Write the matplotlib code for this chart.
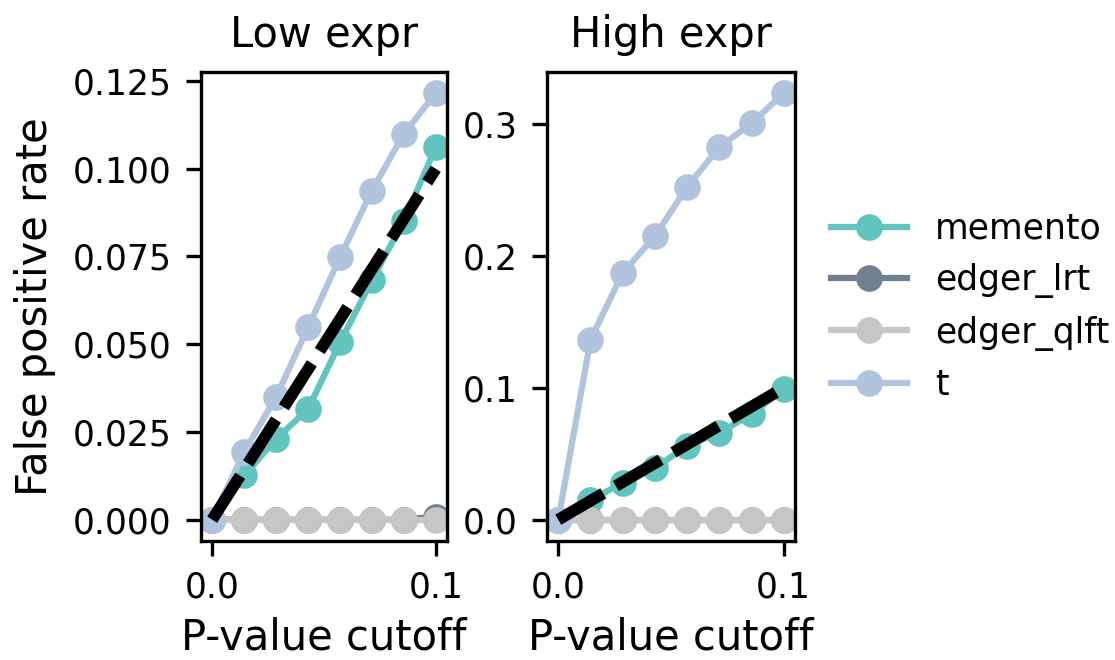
import numpy as np
import matplotlib
matplotlib.use("Agg")
import matplotlib.pyplot as plt

# p-value cutoffs tested (x) and the false positive rate for each method
cutoffs = np.linspace(0, 0.1, 8)

low_memento = [0.0, 0.0126, 0.0230, 0.0315, 0.0505, 0.0682, 0.0852, 0.1062]
low_edger_lrt = [0.0, 0.0, 0.0, 0.0, 0.0, 0.0, 0.0, 0.0009]
low_edger_qlft = [0.0, 0.0, 0.0, 0.0, 0.0, 0.0, 0.0, 0.0]
low_t = [0.0, 0.0193, 0.0350, 0.0548, 0.0748, 0.0938, 0.1100, 0.1215]

high_memento = [0.0, 0.0146, 0.0280, 0.0391, 0.0562, 0.0658, 0.0801, 0.0990]
high_edger_lrt = [0.0, 0.0, 0.0, 0.0, 0.0, 0.0, 0.0, 0.0]
high_edger_qlft = [0.0, 0.0, 0.0, 0.0, 0.0, 0.0, 0.0, 0.0]
high_t = [0.0, 0.1364, 0.1872, 0.2149, 0.2522, 0.2824, 0.3006, 0.3233]

methods = ["memento", "edger_lrt", "edger_qlft", "t"]
colors = ["#62c4bf", "#708090", "#c6c6c6", "#b0c4de"]

panels = [
    ("Low expr", [low_memento, low_edger_lrt, low_edger_qlft, low_t]),
    ("High expr", [high_memento, high_edger_lrt, high_edger_qlft, high_t]),
]

plt.rcParams["font.size"] = 8.3
plt.rcParams["lines.scale_dashes"] = False

fig = plt.figure(figsize=(1115 / 300, 660 / 300), dpi=300)
ax1 = fig.add_axes([0.1803, 0.1803, 0.2206, 0.7106])
ax2 = fig.add_axes([0.4906, 0.1803, 0.2224, 0.7106])

for ax, (title, series) in zip([ax1, ax2], panels):
    for name, vals, c in zip(methods, series, colors):
        ax.plot(cutoffs, vals, "-o", color=c, lw=1.5, ms=5.4, label=name)
    # expected rate under the null: y = x
    ax.plot([0, 0.1], [0, 0.1], color="black", lw=2.8, dashes=(12.5, 3.5))
    ax.set_title(title, fontsize=10)
    ax.set_xticks([0, 0.1])
    ax.set_xticklabels(["0.0", "0.1"])
    ax.set_xlabel("P-value cutoff", fontsize=10, labelpad=3)

ax1.set_yticks([0, 0.025, 0.05, 0.075, 0.1, 0.125])
ax1.set_ylabel("False positive rate", fontsize=10)
ax2.set_yticks([0, 0.1, 0.2, 0.3])

handles, labels = ax1.get_legend_handles_labels()
fig.legend(handles, labels, loc="center left", bbox_to_anchor=(0.733, 0.535),
           frameon=False, handlelength=2.2, borderaxespad=0)

fig.savefig("out.png", dpi=300)
